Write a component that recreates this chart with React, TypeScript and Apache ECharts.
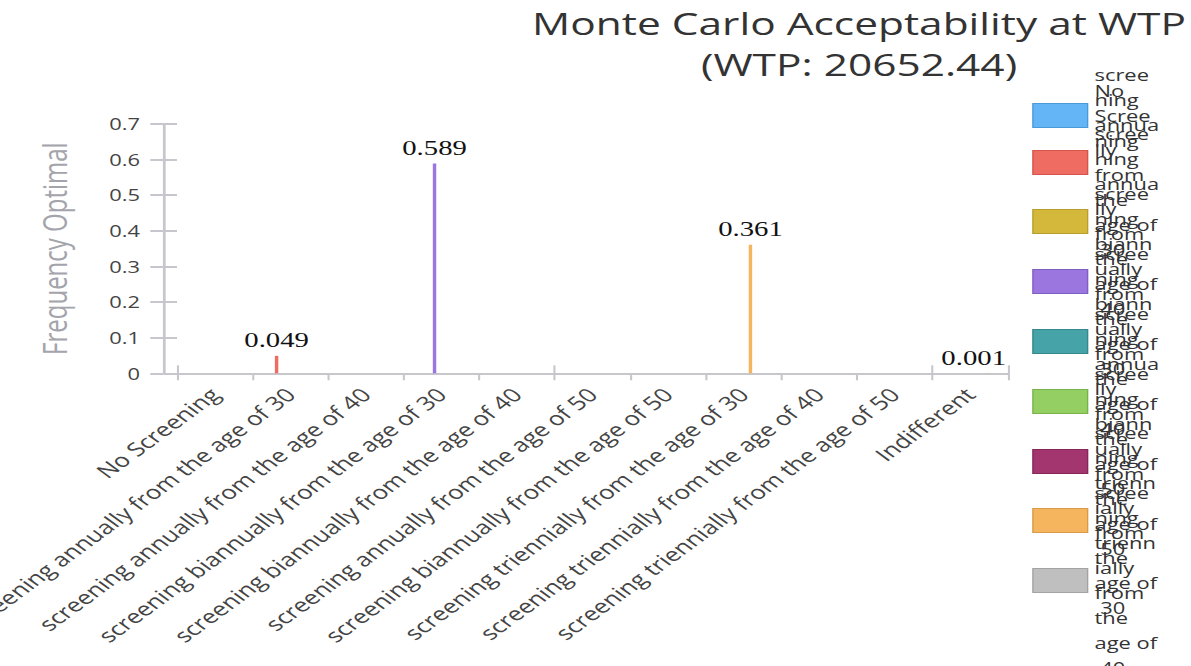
import React, { useEffect, useRef } from "react";
import * as echarts from "echarts";

// ---------- data ----------
const categories = [
  "No Screening",
  "screening annually from the age of 30",
  "screening annually from the age of 40",
  "screening biannually from the age of 30",
  "screening biannually from the age of 40",
  "screening annually from the age of 50",
  "screening biannually from the age of 50",
  "screening triennially from the age of 30",
  "screening triennially from the age of 40",
  "screening triennially from the age of 50",
  "Indifferent",
];
const frequencies = [0, 0.049, 0, 0.589, 0, 0, 0, 0.361, 0, 0, 0.001];
const seriesColors = [
  "#64b5f6", "#ef6c63", "#d4b83c", "#9c76df", "#46a3a8", "#93cf62",
  "#a3356f", "#f4b55e", "#bfbfbf", "#64b5f6", "#dcc060",
];
const borderColors = [
  "#4a9ad8", "#d4544c", "#b89e2c", "#7f5ec2", "#34878c", "#78b34a",
  "#862758", "#d89a48", "#a3a3a3", "#4a9ad8", "#c0a448",
];
const yTickValues = [0, 0.1, 0.2, 0.3, 0.4, 0.5, 0.6, 0.7];
const titleLines = ["Monte Carlo Acceptability at WTP", "(WTP: 20652.44)"];
const yAxisTitle = "Frequency Optimal";
const legendShown = 9;

// ---------- layout ----------
const PAGE_W = 1191;
const PAGE_H = 666;
const BASE_W = 870;
const STRETCH = PAGE_W / BASE_W;
const SANS = "'Open Sans', 'Noto Sans', sans-serif";
const SERIF = "'Liberation Serif', 'Times New Roman', serif";
const AXIS_COLOR = "#c6c6cc";
const legendCenters = [111, 158, 217, 277, 337, 397, 457, 516, 576];
const legendLineCounts = [3, 8, 8, 8, 8, 8, 8, 8, 8];
const LEGEND_LINE_H = 25;

function buildOption(): echarts.EChartsOption {
  const yMin = yTickValues[0];
  const yMax = yTickValues[yTickValues.length - 1];
  const yStep = yTickValues[1] - yTickValues[0];

  const series = categories.map((name, i) => ({
    type: "bar" as const,
    name,
    xAxisIndex: 0,
    yAxisIndex: 0,
    data: categories.map((_, j) => (j === i ? frequencies[i] : null)),
    barGap: "0%",
    barCategoryGap: "50%",
    itemStyle: { color: seriesColors[i] },
    label: {
      show: frequencies[i] > 0,
      position: "top" as const,
      distance: 5,
      offset: i === categories.length - 1 ? [-10, 0] : [0, 0],
      fontFamily: SERIF,
      fontSize: 21,
      color: "#111",
      formatter: (p: any) => Number(p.value).toFixed(3),
    },
  }));

  const legends = legendCenters.slice(0, legendShown).map((c, i) => ({
    data: [
      {
        name: categories[i],
        itemStyle: { borderColor: borderColors[i], borderWidth: 1 },
      },
    ],
    orient: "vertical" as const,
    icon: "rect",
    left: 754,
    top: c - (legendLineCounts[i] * LEGEND_LINE_H) / 2 + 4.5,
    padding: 0,
    itemWidth: 40,
    itemHeight: 24,
    itemGap: 0,
    textStyle: {
      fontFamily: SANS,
      fontSize: 16,
      color: "#333",
      width: 48,
      overflow: "break" as const,
      lineHeight: LEGEND_LINE_H,
    },
  }));

  return {
    animation: false,
    backgroundColor: "#ffffff",
    title: {
      text: titleLines.join("\n"),
      left: 627.5,
      top: 2,
      textAlign: "center",
      padding: 0,
      textStyle: {
        fontFamily: SANS,
        fontSize: 31,
        fontWeight: "normal",
        color: "#333",
        lineHeight: 41,
      },
    },
    legend: legends as any,
    grid: {
      left: 129.3,
      right: BASE_W - 736.3,
      top: 124,
      bottom: PAGE_H - 373.3,
      containLabel: false,
      outerBoundsMode: "none",
    } as any,
    xAxis: [
      {
        type: "category",
        data: categories,
        position: "bottom",
        offset: 10,
        axisLine: { show: true, lineStyle: { color: AXIS_COLOR, width: 2 } },
        axisTick: {
          show: true,
          inside: false,
          length: 7,
          lineStyle: { color: AXIS_COLOR, width: 1.5 },
        },
        axisLabel: {
          interval: 0,
          rotate: 45,
          margin: 8,
          fontFamily: SANS,
          fontSize: 19,
          color: "#444",
        },
        splitLine: { show: false },
      },
      {
        type: "category",
        data: categories,
        position: "bottom",
        offset: 10,
        axisLine: { show: false },
        axisTick: {
          show: true,
          inside: true,
          length: 8,
          lineStyle: { color: AXIS_COLOR, width: 1.5 },
        },
        axisLabel: { show: false },
        splitLine: { show: false },
      },
    ],
    yAxis: [
      {
        type: "value",
        min: yMin,
        max: yMax,
        interval: yStep,
        position: "left",
        offset: 10,
        name: yAxisTitle,
        nameLocation: "middle",
        nameGap: 68,
        nameTextStyle: { fontFamily: SANS, fontSize: 24, color: "#a4a4ac" },
        axisLine: { show: true, lineStyle: { color: AXIS_COLOR, width: 2 } },
        axisTick: {
          show: true,
          inside: false,
          length: 9.5,
          lineStyle: { color: AXIS_COLOR, width: 2 },
        },
        axisLabel: {
          margin: 17,
          fontFamily: SANS,
          fontSize: 16,
          color: "#444",
        },
        splitLine: { show: false },
      },
      {
        type: "value",
        min: yMin,
        max: yMax,
        interval: yStep,
        position: "left",
        offset: 10,
        axisLine: { show: false },
        axisTick: {
          show: true,
          inside: true,
          length: 10,
          lineStyle: { color: AXIS_COLOR, width: 2 },
        },
        axisLabel: { show: false },
        splitLine: { show: false },
      },
    ],
    series,
  } as echarts.EChartsOption;
}

export default function App() {
  const ref = useRef<HTMLDivElement>(null);
  useEffect(() => {
    if (!ref.current) return;
    const chart = echarts.init(ref.current, null, { renderer: "svg" });
    chart.setOption(buildOption());
    return () => chart.dispose();
  }, []);
  return (
    <div
      style={{
        position: "fixed",
        left: 0,
        top: 0,
        width: PAGE_W,
        height: PAGE_H,
        overflow: "hidden",
        background: "#fff",
      }}
    >
      <div
        ref={ref}
        style={{
          width: BASE_W,
          height: PAGE_H,
          transform: `scaleX(${STRETCH})`,
          transformOrigin: "0 0",
        }}
      />
    </div>
  );
}
